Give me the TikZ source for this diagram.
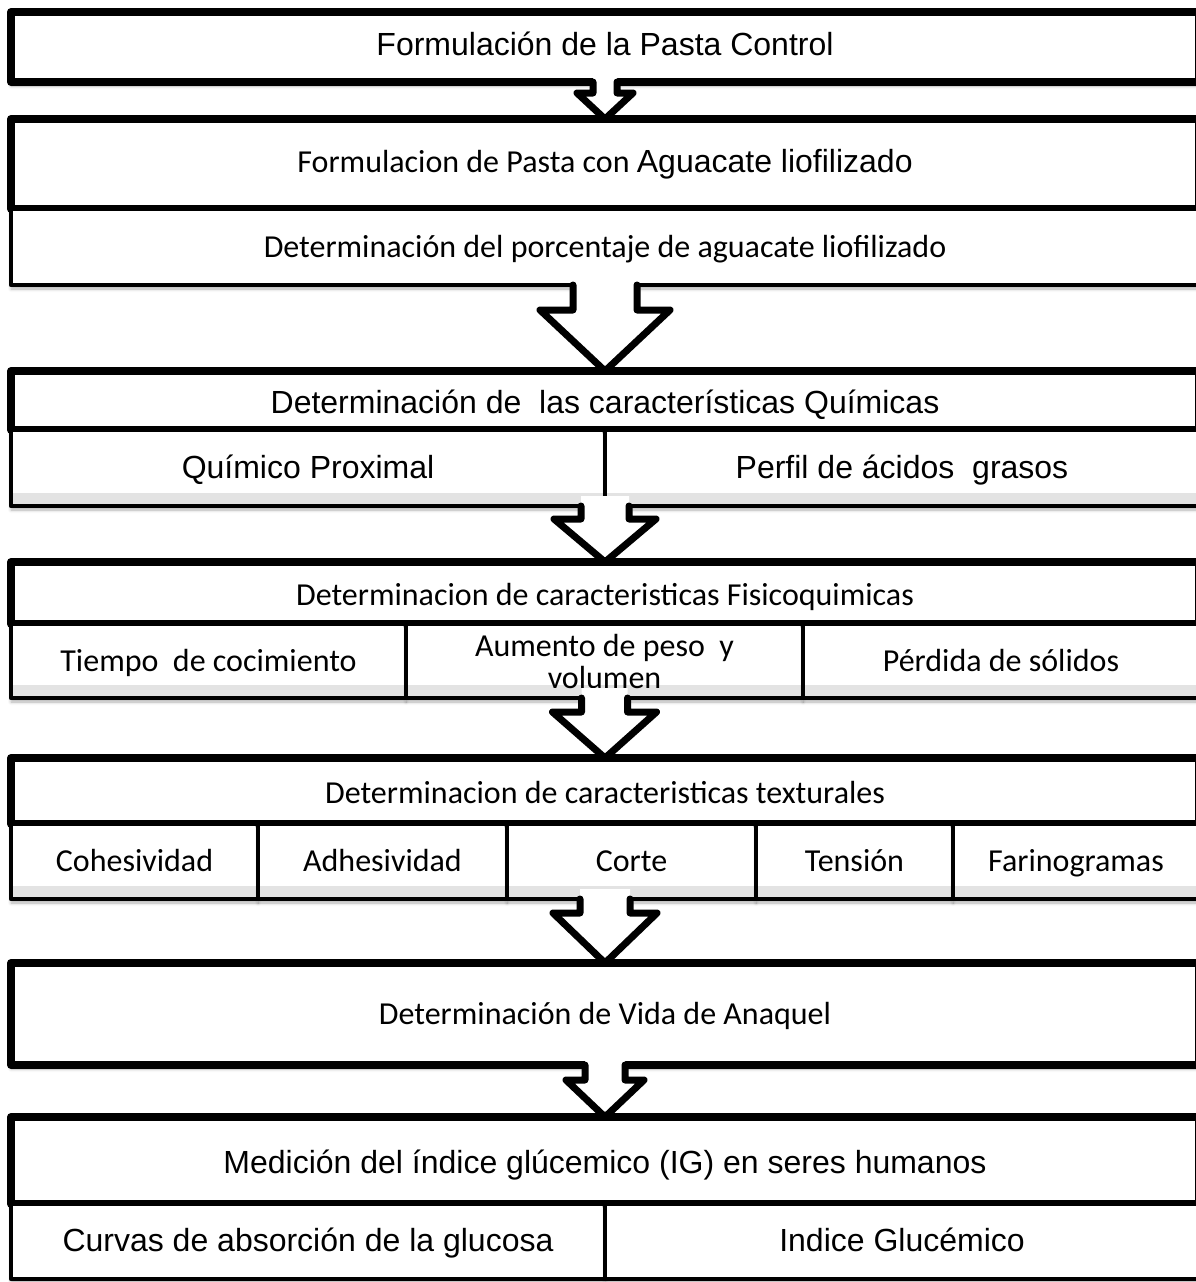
\documentclass[tikz,border=0pt]{standalone}
\usepackage{fontspec}
\newfontfamily\arialfont{Liberation Sans}
\newfontfamily\calibrifont{Carlito}
\usepackage{tikz}
\usetikzlibrary{positioning, shadows.blur}

% Block arrow: top point, tip point, stem half width, wing half width, wing drop
\newcommand{\flecha}[5]{%
    \fill[white] ([xshift=-#3pt,yshift=10pt]#1) -- ([xshift=-#3pt,yshift=-#5pt]#1) -- ([xshift=-#4pt,yshift=-#5pt]#1) -- (#2)
        -- ([xshift=#4pt,yshift=-#5pt]#1) -- ([xshift=#3pt,yshift=-#5pt]#1) -- ([xshift=#3pt,yshift=10pt]#1) -- cycle;
    \draw[flechalinea] ([xshift=-#3pt]#1) -- ([xshift=-#3pt,yshift=-#5pt]#1) -- ([xshift=-#4pt,yshift=-#5pt]#1) -- (#2)
        -- ([xshift=#4pt,yshift=-#5pt]#1) -- ([xshift=#3pt,yshift=-#5pt]#1) -- ([xshift=#3pt]#1);
}

\begin{document}
\begin{tikzpicture}[
    x=1pt, y=-1pt,
    caja/.style={
        rectangle,
        draw=black,
        fill=white,
        line width=8pt,
        line join=round,
        outer sep=0pt,
        inner sep=0pt,
        minimum width=1188pt,
        text height=24pt,
        text depth=8pt,
        align=center,
        blur shadow={shadow xshift=0pt, shadow yshift=-4pt, shadow blur radius=3pt, shadow opacity=30}
    },
    celda/.style={caja, line width=4.5pt, text height=26pt, text depth=6pt},
    bajo/.style={text height=31pt, text depth=6pt},
    franja/.style={
        path picture={\fill[black!11] ([yshift=2pt]path picture bounding box.south west) rectangle ([yshift=13pt]path picture bounding box.south east);}
    },
    arial/.style={font=\arialfont\fontsize{32}{33}\selectfont},
    calibri/.style={font=\calibrifont\fontsize{32}{32}\selectfont},
    flechalinea/.style={draw=black, line width=7pt, line join=round, line cap=round}
]
    \useasboundingbox (0,0) rectangle (1196,1282);

    % Pasta control
    \node[caja, arial, minimum height=70pt] (pastacontrol) at (605,47) {Formulación de la Pasta Control};

    % Pasta con aguacate
    \node[caja, font=\fontsize{32}{33}\selectfont, minimum height=90pt] (formulacion) at (605,164)
        {{\calibrifont Formulacion de Pasta con }{\arialfont Aguacate liofilizado}};
    \node[celda, calibri, minimum height=76pt, below=0pt of formulacion] (porcentaje) {Determinación del porcentaje de aguacate liofilizado};

    % Caracteristicas quimicas
    \node[caja, bajo, arial, minimum height=59pt] (quimicas) at (605,400.5) {Determinación de~~las características Químicas};
    \node[celda, franja, arial, minimum width=594pt, minimum height=76pt, below right=0pt and 0pt of quimicas.south west] (proximal) {Químico Proximal};
    \node[celda, franja, arial, minimum width=594pt, minimum height=76pt, right=0pt of proximal] (acidos) {Perfil de ácidos~~grasos};

    % Caracteristicas fisicoquimicas
    \node[caja, bajo, calibri, minimum height=62pt] (fisico) at (605,593) {Determinacion de caracteristicas Fisicoquimicas};
    \node[celda, franja, calibri, minimum width=395pt, minimum height=74pt, below right=0pt and 0pt of fisico.south west] (coccion) {Tiempo~~de cocimiento};
    \node[celda, franja, calibri, minimum width=397pt, minimum height=74pt, text height=, text depth=, right=0pt of coccion] (aumento) {Aumento de peso~~y\\volumen};
    \node[celda, franja, calibri, minimum width=396pt, minimum height=74pt, right=0pt of aumento] (solidos) {Pérdida de sólidos};

    % Caracteristicas texturales
    \node[caja, bajo, calibri, minimum height=66pt] (texturas) at (605,791) {Determinacion de caracteristicas texturales};
    \node[celda, franja, calibri, minimum width=247pt, minimum height=75pt, below right=0pt and 0pt of texturas.south west] (cohesividad) {Cohesividad};
    \node[celda, franja, calibri, minimum width=249pt, minimum height=75pt, right=0pt of cohesividad] (adhesividad) {Adhesividad};
    \node[celda, franja, calibri, minimum width=249pt, minimum height=75pt, right=0pt of adhesividad] (corte) {Corte};
    \node[celda, franja, calibri, minimum width=197pt, minimum height=75pt, right=0pt of corte] (tension) {Tensión};
    \node[celda, franja, calibri, minimum width=246pt, minimum height=75pt, right=0pt of tension] (farinogramas) {Farinogramas};

    % Vida de anaquel
    \node[caja, calibri, text height=26pt, text depth=6pt, minimum height=102pt] (anaquel) at (605,1014) {Determinación de Vida de Anaquel};

    % Indice glucemico
    \node[caja, bajo, arial, minimum height=87pt] (medicion) at (605,1160.5) {Medición del índice glúcemico (IG) en seres humanos};
    \node[celda, arial, minimum width=594pt, minimum height=75pt, below right=0pt and 0pt of medicion.south west] (curvas) {Curvas de absorción de la glucosa};
    \node[celda, arial, minimum width=594pt, minimum height=75pt, right=0pt of curvas] (indice) {Indice Glucémico};

    % Flechas entre pasos
    \coordinate (salida3) at (quimicas.center |- proximal.south);
    \coordinate (salida5) at (texturas.center |- corte.south);
    \flecha{pastacontrol.south}{formulacion.north}{12}{28}{11}
    \flecha{porcentaje.south}{quimicas.north}{32}{65}{25}
    \flecha{salida3}{fisico.north}{24}{51}{13}
    \flecha{aumento.south}{texturas.north}{23}{52}{14}
    \flecha{salida5}{anaquel.north}{25}{52}{14}
    \flecha{anaquel.south}{medicion.north}{20}{39}{15}
\end{tikzpicture}
\end{document}
